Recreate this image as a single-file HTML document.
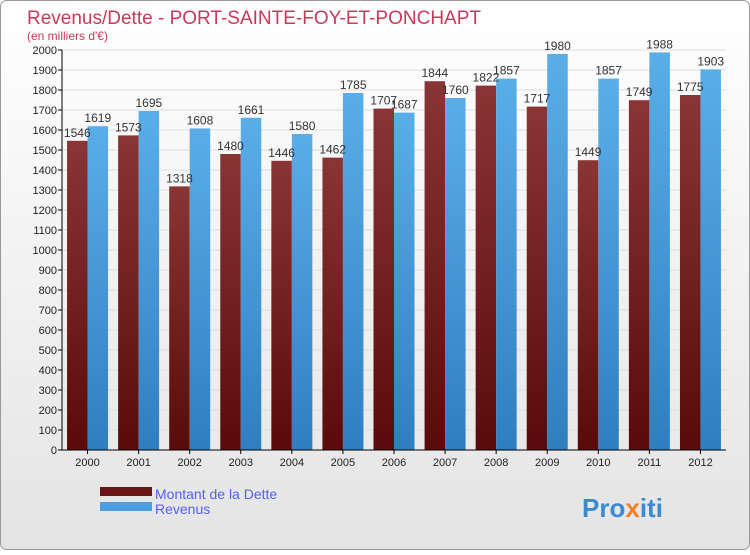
<!DOCTYPE html>
<html><head><meta charset="utf-8"><style>
body{margin:0;width:750px;height:550px;overflow:hidden;font-family:"Liberation Sans",sans-serif}
</style></head><body>
<svg width="750" height="550" xmlns="http://www.w3.org/2000/svg">
<defs>
<linearGradient id="bg" x1="0" y1="0" x2="0" y2="1"><stop offset="0" stop-color="#ffffff"/><stop offset="1" stop-color="#e4e4e4"/></linearGradient>
<linearGradient id="gd" x1="0" y1="0" x2="0" y2="1"><stop offset="0" stop-color="#8a3535"/><stop offset="1" stop-color="#5a0a0a"/></linearGradient>
<linearGradient id="gr" x1="0" y1="0" x2="0" y2="1"><stop offset="0" stop-color="#5aaee8"/><stop offset="1" stop-color="#2f7fc0"/></linearGradient>
</defs>
<rect x="0.5" y="0.5" width="749" height="549" rx="6" fill="url(#bg)" stroke="#999"/>
<text x="27" y="24" font-size="19" fill="#c83a5a">Revenus/Dette - PORT-SAINTE-FOY-ET-PONCHAPT</text>
<text x="27" y="40" font-size="12" fill="#c83a5a">(en milliers d'€)</text>
<g id="grid"></g><g id="bars"></g><g id="axes"></g>
<rect x="100" y="487" width="52" height="9" fill="#6a1515"/>
<text x="155" y="499" font-size="14" fill="#5560f0">Montant de la Dette</text>
<rect x="100" y="502" width="52" height="9" fill="#4aa0e0"/>
<text x="155" y="514" font-size="14" fill="#5560f0">Revenus</text>
<text x="582" y="517" font-size="26" font-weight="bold" fill="#3a8ad0">Pro<tspan fill="#f08020">x</tspan>iti</text>
</svg>
<script>
const years=['2000','2001','2002','2003','2004','2005','2006','2007','2008','2009','2010','2011','2012'];
const dette=[1546,1573,1318,1480,1446,1462,1707,1844,1822,1717,1449,1749,1775];
const revenus=[1619,1695,1608,1661,1580,1785,1687,1760,1857,1980,1857,1988,1903];
const yTicks=[0,100,200,300,400,500,600,700,800,900,1000,1100,1200,1300,1400,1500,1600,1700,1800,1900,2000];
const NS='http://www.w3.org/2000/svg';
const x0=62,x1=726,yb=450,yt=50,ymax=2000;
const step=(x1-x0)/years.length;
const Y=v=>yb-(v/ymax)*(yb-yt);
function mk(t,a,p){const e=document.createElementNS(NS,t);for(const k in a)e.setAttribute(k,a[k]);p.appendChild(e);return e;}
const grid=document.getElementById('grid'),bars=document.getElementById('bars'),axes=document.getElementById('axes');
yTicks.forEach(v=>{
 const l=mk('line',{x1:x0,x2:x1,y1:Y(v),y2:Y(v),stroke:'#dddddd'},grid);
 
 
 const tk=mk('line',{x1:x0-4,x2:x0,y1:Y(v),y2:Y(v),stroke:'#000'},axes);
 
 
 const t=mk('text',{x:x0-5,y:Y(v)+4,'font-size':11,'text-anchor':'end',fill:'#222'},axes);t.textContent=v;
 
 
});
years.forEach((yr,i)=>{
 const gx=x0+step*i;
 const bw=20.5;const bx=gx+step/2-bw;
 const b1=mk('rect',{x:bx,y:Y(dette[i]),width:bw,height:yb-Y(dette[i]),fill:'url(#gd)'},bars);
 
 
 const b2=mk('rect',{x:bx+bw,y:Y(revenus[i]),width:bw,height:yb-Y(revenus[i]),fill:'url(#gr)'},bars);
 
 
 const t1=mk('text',{x:bx+bw/2,y:Y(dette[i])-4,'font-size':12,'text-anchor':'middle',fill:'#333'},bars);t1.textContent=dette[i];
 
 
 const t2=mk('text',{x:bx+bw*1.5,y:Y(revenus[i])-4,'font-size':12,'text-anchor':'middle',fill:'#333'},bars);t2.textContent=revenus[i];
 
 
 const xt=mk('line',{x1:gx+step/2,x2:gx+step/2,y1:yb,y2:yb+4,stroke:'#000'},axes);
 
 
 const xl=mk('text',{x:gx+step/2,y:yb+16,'font-size':11,'text-anchor':'middle',fill:'#222'},axes);xl.textContent=yr;
 
 
});
const ya=mk('line',{x1:x0,x2:x0,y1:yt,y2:yb,stroke:'#000'},axes);


const xa=mk('line',{x1:x0,x2:x1,y1:yb,y2:yb,stroke:'#000'},axes);


</script>
</body></html>
